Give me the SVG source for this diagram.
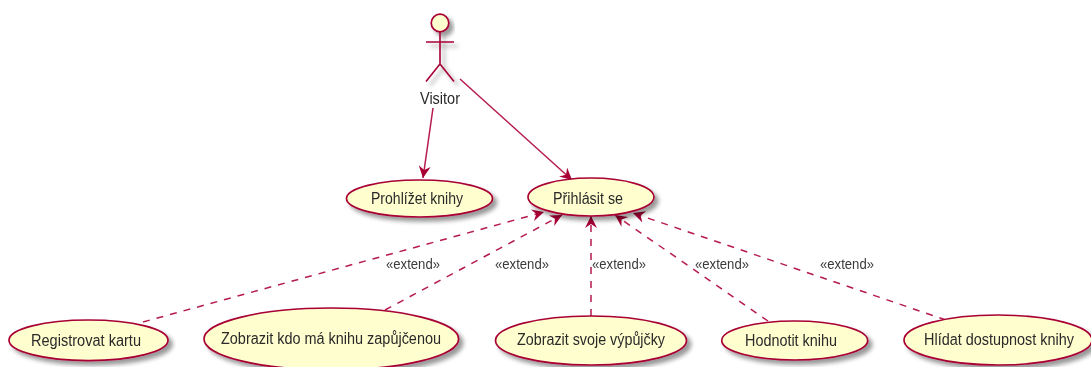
<svg xmlns="http://www.w3.org/2000/svg" width="1091" height="367" viewBox="0 0 1091 367">
<style>
.n{fill:#FEFECE;stroke:#A80036;stroke-width:1.7;filter:url(#s)}
.a{fill:none;stroke:#A80036;stroke-width:1.6}
.t{font-family:"Liberation Sans",Arial,sans-serif;font-size:16px;fill:#2a2a2a;text-anchor:middle}
.l{font-family:"Liberation Sans",Arial,sans-serif;font-size:14px;fill:#3a3a3a;text-anchor:middle}
.c{fill:none;stroke:#B51C4C;stroke-width:1.5;marker-end:url(#h)}
.d{stroke-dasharray:7 7}
</style>
<defs>
<filter id="s" x="-20%" y="-30%" width="150%" height="170%"><feDropShadow dx="4" dy="4" stdDeviation="2" flood-color="#000" flood-opacity="0.4"/></filter>
<filter id="b" x="0" y="0" width="1091" height="367" filterUnits="userSpaceOnUse"><feGaussianBlur stdDeviation="0.45"/></filter>
<marker id="h" markerUnits="userSpaceOnUse" markerWidth="15" markerHeight="14" refX="12" refY="6" orient="auto"><path d="M0 0L12 6L0 12L4 6Z" fill="#A80036"/></marker>
</defs>
<g filter="url(#b)">
<g id="connectors">
<path class="c" d="M433 108L423 178"/>
<path class="c" d="M460 79L572 180"/>
<path class="c d" d="M143 322L544 212"/>
<path class="c d" d="M385 310L562 215"/>
<path class="c d" d="M591 316L591 216"/>
<path class="c d" d="M768 321L615 215"/>
<path class="c d" d="M946 320L633 213"/>
</g>
<g id="visitor">
<circle class="n" cx="440" cy="23" r="8.800"/>
<path class="a" style="filter:url(#s)" d="M440 31.500V64M426 42H454M426 81.500L440 64L454 81.500"/>
<text class="t" x="440" y="104" textLength="40" lengthAdjust="spacingAndGlyphs">Visitor</text>
</g>
<g id="prohlizet"><ellipse class="n" cx="419.500" cy="198.500" rx="73" ry="18.500"/><text class="t" x="417" y="204" textLength="92" lengthAdjust="spacingAndGlyphs">Prohlížet knihy</text></g>
<g id="prihlasit"><ellipse class="n" cx="591" cy="197" rx="63" ry="19"/><text class="t" x="588" y="204" textLength="70" lengthAdjust="spacingAndGlyphs">Přihlásit se</text></g>
<g id="registrovat"><ellipse class="n" cx="88.500" cy="340.300" rx="79.500" ry="20.300"/><text class="t" x="86" y="345.500" textLength="110" lengthAdjust="spacingAndGlyphs">Registrovat kartu</text></g>
<g id="zobrazit-kdo"><ellipse class="n" cx="331.300" cy="339" rx="127.300" ry="31"/><text class="t" x="331" y="344" textLength="220" lengthAdjust="spacingAndGlyphs">Zobrazit kdo má knihu zapůjčenou</text></g>
<g id="zobrazit-svoje"><ellipse class="n" cx="591" cy="340.500" rx="95.500" ry="24.500"/><text class="t" x="591" y="345" textLength="148" lengthAdjust="spacingAndGlyphs">Zobrazit svoje výpůjčky</text></g>
<g id="hodnotit"><ellipse class="n" cx="794.700" cy="340.500" rx="73" ry="19.500"/><text class="t" x="791" y="346" textLength="92" lengthAdjust="spacingAndGlyphs">Hodnotit knihu</text></g>
<g id="hlidat"><ellipse class="n" cx="998" cy="340" rx="94" ry="25"/><text class="t" x="999" y="345" textLength="150" lengthAdjust="spacingAndGlyphs">Hlídat dostupnost knihy</text></g>
<g id="labels">
<text class="l" x="413" y="269" textLength="54" lengthAdjust="spacingAndGlyphs">«extend»</text>
<text class="l" x="522" y="269" textLength="54" lengthAdjust="spacingAndGlyphs">«extend»</text>
<text class="l" x="619" y="269" textLength="54" lengthAdjust="spacingAndGlyphs">«extend»</text>
<text class="l" x="722" y="269" textLength="54" lengthAdjust="spacingAndGlyphs">«extend»</text>
<text class="l" x="847" y="269" textLength="54" lengthAdjust="spacingAndGlyphs">«extend»</text>
</g>
</g>
</svg>
